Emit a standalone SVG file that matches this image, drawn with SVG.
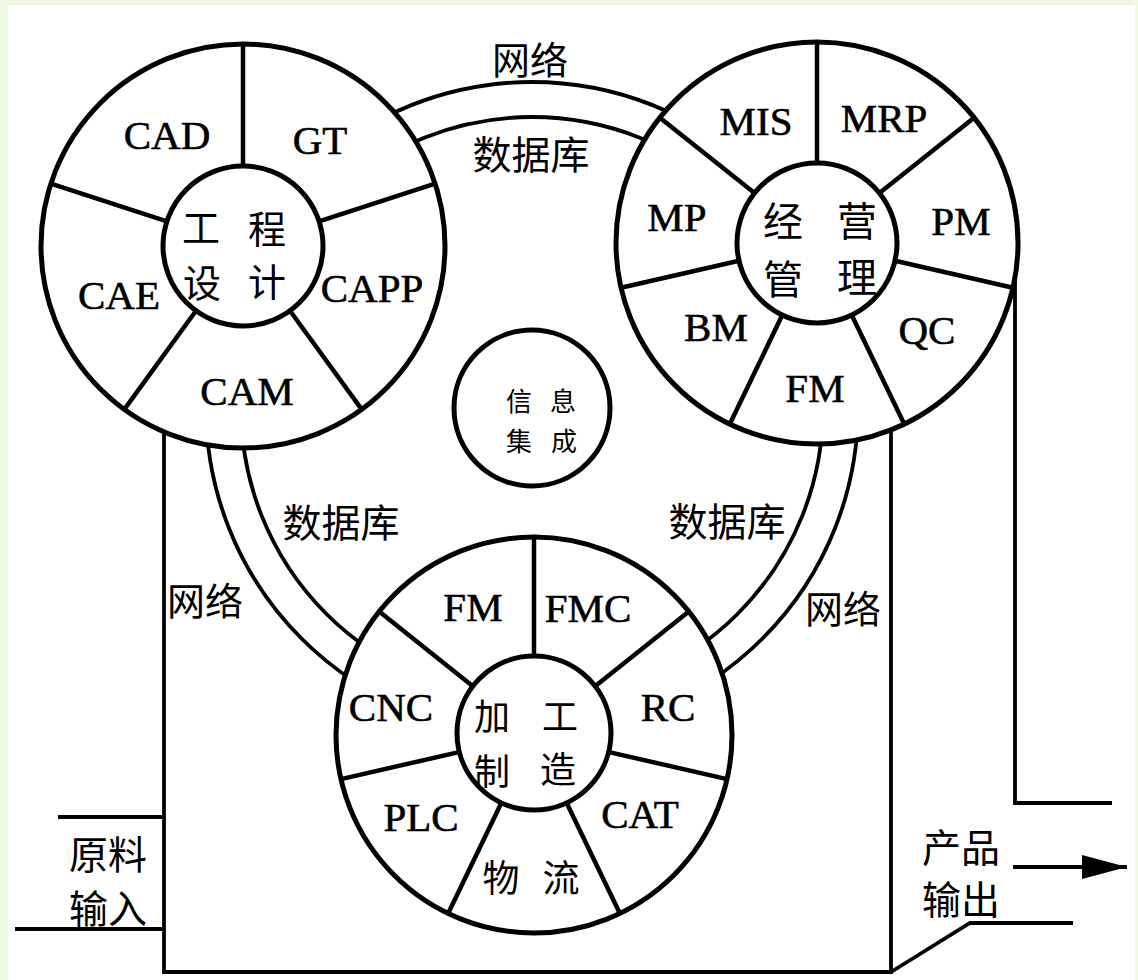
<svg xmlns="http://www.w3.org/2000/svg" width="1138" height="980" viewBox="0 0 1138 980">
<style>
.ring{fill:#fff;stroke:#000;stroke-width:5}
.hub{fill:#fff;stroke:#000;stroke-width:5}
.div{stroke:#000;stroke-width:4.5;stroke-linecap:round}
.band{fill:none;stroke:#000;stroke-width:3.8}
.wire{fill:none;stroke:#000;stroke-width:3.8}
.lat{font-family:"Liberation Serif","Times New Roman",serif;font-size:41px;text-anchor:middle;fill:#000;stroke:#000;stroke-width:0.6}
.cjk{font-family:"Noto Sans CJK SC",sans-serif;text-anchor:middle;dominant-baseline:central;fill:#000}
</style>
<defs>
<marker id="ah" viewBox="0 0 45 24" refX="45" refY="12" markerWidth="45" markerHeight="24" markerUnits="userSpaceOnUse" orient="auto">
<path d="M0,0 L45,12 L0,24 Z" fill="#000"/>
</marker>
</defs>
<rect x="0" y="0" width="1138" height="980" fill="#eef8e2"/>
<rect x="8" y="5" width="1127" height="975" fill="#fff"/>

<g id="connectors">
<circle class="band" cx="532" cy="408" r="326"/>
<circle class="band" cx="532" cy="408" r="291"/>
<path class="wire" d="M164,400 V972 H891 V400"/>
<path class="wire" d="M58,817 H164"/>
<path class="wire" d="M15,929 H164"/>
<path class="wire" d="M891,972 L970,923 H1073"/>
<path class="wire" d="M1015,260 V803 H1112"/>
<path class="wire" d="M1013,867 H1127" marker-end="url(#ah)"/>
<text class="cjk" x="530" y="57" font-size="38">网络</text>
<text class="cjk" x="531" y="152" font-size="39">数据库</text>
<text class="cjk" x="341" y="520" font-size="39">数据库</text>
<text class="cjk" x="205" y="598" font-size="38">网络</text>
<text class="cjk" x="727" y="519" font-size="39">数据库</text>
<text class="cjk" x="843" y="606" font-size="38">网络</text>
<text class="cjk" x="108" y="852" font-size="39">原料</text>
<text class="cjk" x="108" y="906" font-size="39">输入</text>
<text class="cjk" x="961" y="845" font-size="39">产品</text>
<text class="cjk" x="961" y="897" font-size="39">输出</text>
</g>

<g id="node-design">
<circle class="ring" cx="243" cy="246" r="202"/>
<line class="div" x1="243" y1="166" x2="243" y2="44"/>
<line class="div" x1="319.1" y1="221.3" x2="435.1" y2="183.6"/>
<line class="div" x1="290" y1="310.7" x2="361.7" y2="409.4"/>
<line class="div" x1="196" y1="310.7" x2="124.3" y2="409.4"/>
<line class="div" x1="166.9" y1="221.3" x2="50.9" y2="183.6"/>
<circle class="hub" cx="243" cy="246" r="80"/>
<text class="lat" x="167" y="149">CAD</text>
<text class="lat" x="320" y="154">GT</text>
<text class="lat" x="119" y="309">CAE</text>
<text class="lat" x="372" y="302">CAPP</text>
<text class="lat" x="247" y="405">CAM</text>
<text class="cjk" x="201" y="225" font-size="38">工</text>
<text class="cjk" x="267" y="226" font-size="38">程</text>
<text class="cjk" x="202" y="280" font-size="38">设</text>
<text class="cjk" x="267" y="279" font-size="38">计</text>
</g>

<g id="node-management">
<circle class="ring" cx="817" cy="243" r="201"/>
<line class="div" x1="817" y1="163" x2="817" y2="42"/>
<line class="div" x1="879.5" y1="193.1" x2="974.1" y2="117.7"/>
<line class="div" x1="895" y1="260.8" x2="1013" y2="287.7"/>
<line class="div" x1="851.7" y1="315.1" x2="904.2" y2="424.1"/>
<line class="div" x1="782.3" y1="315.1" x2="729.8" y2="424.1"/>
<line class="div" x1="739" y1="260.8" x2="621" y2="287.7"/>
<line class="div" x1="754.5" y1="193.1" x2="659.9" y2="117.7"/>
<circle class="hub" cx="817" cy="243" r="80"/>
<text class="lat" x="756" y="135">MIS</text>
<text class="lat" x="884" y="132">MRP</text>
<text class="lat" x="677" y="231">MP</text>
<text class="lat" x="961" y="235">PM</text>
<text class="lat" x="716" y="341">BM</text>
<text class="lat" x="927" y="344">QC</text>
<text class="lat" x="815" y="402">FM</text>
<text class="cjk" x="783" y="219" font-size="40">经</text>
<text class="cjk" x="857" y="219" font-size="40">营</text>
<text class="cjk" x="783" y="277" font-size="40">管</text>
<text class="cjk" x="857" y="275" font-size="40">理</text>
</g>

<g id="node-manufacturing">
<circle class="ring" cx="534" cy="735" r="198"/>
<line class="div" x1="534" y1="658" x2="534" y2="537"/>
<line class="div" x1="594.2" y1="687" x2="688.8" y2="611.5"/>
<line class="div" x1="609.1" y1="752.1" x2="727" y2="779.1"/>
<line class="div" x1="567.4" y1="804.4" x2="619.9" y2="913.4"/>
<line class="div" x1="500.6" y1="804.4" x2="448.1" y2="913.4"/>
<line class="div" x1="458.9" y1="752.1" x2="341" y2="779.1"/>
<line class="div" x1="473.8" y1="687" x2="379.2" y2="611.5"/>
<circle class="hub" cx="534" cy="733" r="77"/>
<text class="lat" x="473" y="621">FM</text>
<text class="lat" x="588" y="622">FMC</text>
<text class="lat" x="391" y="721">CNC</text>
<text class="lat" x="668" y="721">RC</text>
<text class="lat" x="421" y="831">PLC</text>
<text class="lat" x="640" y="828">CAT</text>
<text class="cjk" x="501" y="876" font-size="37">物</text>
<text class="cjk" x="561" y="876" font-size="37">流</text>
<text class="cjk" x="492" y="714" font-size="36">加</text>
<text class="cjk" x="560" y="714" font-size="36">工</text>
<text class="cjk" x="492" y="769" font-size="36">制</text>
<text class="cjk" x="558" y="767" font-size="36">造</text>
</g>

<g id="node-info">
<circle class="hub" cx="532" cy="408" r="78"/>
<text class="cjk" x="519" y="399" font-size="26">信</text>
<text class="cjk" x="563" y="399" font-size="26">息</text>
<text class="cjk" x="519" y="439" font-size="26">集</text>
<text class="cjk" x="564" y="439" font-size="26">成</text>
</g>
</svg>
